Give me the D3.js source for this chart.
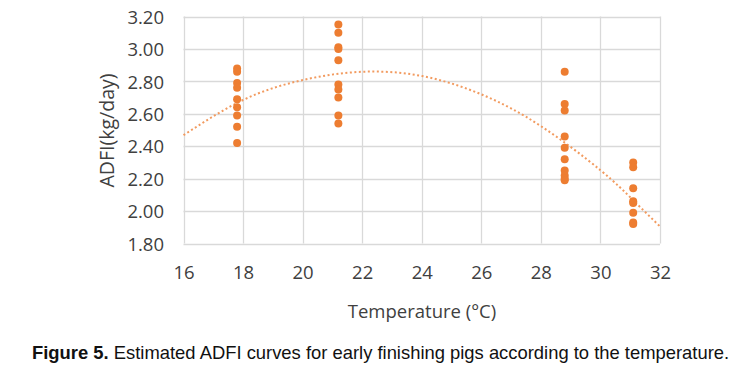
<!DOCTYPE html>
<html>
<head>
<meta charset="utf-8">
<script src="https://cdn.jsdelivr.net/npm/d3@7"></script>
<style>
  html, body { margin: 0; padding: 0; background: #fff; }
  svg { display: block; }
</style>
</head>
<body>
<svg id="chart" width="748" height="379"></svg>
<script>
// ---- data ----
const xTicks = [16, 18, 20, 22, 24, 26, 28, 30, 32];
const yTicks = [1.8, 2.0, 2.2, 2.4, 2.6, 2.8, 3.0, 3.2];

const temperatures = [17.8, 21.2, 28.8, 31.1];
const adfi178 = [2.88, 2.86, 2.79, 2.76, 2.69, 2.64, 2.59, 2.52, 2.42];
const adfi212 = [3.15, 3.10, 3.01, 3.00, 2.93, 2.78, 2.75, 2.70, 2.59, 2.54];
const adfi288 = [2.86, 2.66, 2.62, 2.46, 2.39, 2.32, 2.25, 2.22, 2.20, 2.19];
const adfi311 = [2.30, 2.27, 2.14, 2.06, 2.05, 1.99, 1.93, 1.92];

// polynomial trend line at each tick
const trendX = [16, 18, 20, 22, 24, 26, 28, 30, 31.1, 32];
const trendY = [2.468, 2.685, 2.808, 2.859, 2.833, 2.72, 2.524, 2.252, 2.067, 1.905];

const xTitle = "Temperature (°C)";
const yTitle = "ADFI(kg/day)";
const captionBold = "Figure 5.";
const captionText = " Estimated ADFI curves for early finishing pigs according to the temperature.";

// ---- build ----
const svg = d3.select("#chart");
const x = d3.scaleLinear().domain([16, 32]).range([183.5, 660]);
const y = d3.scaleLinear().domain([1.8, 3.2]).range([243.5, 16.5]);

const orange = "#ED7D31";
const gridColor = "#d9d9d9";
const textColor = "#404040";
const font = "'Open Sans', 'Noto Sans', sans-serif";

// gridlines
const grid = svg.append("g");
grid.selectAll("line.h").data(yTicks).join("line")
  .attr("x1", x(16)).attr("x2", x(32))
  .attr("y1", d => Math.round(y(d)) + 0.5).attr("y2", d => Math.round(y(d)) + 0.5)
  .attr("stroke", gridColor).attr("stroke-width", 1.3);
grid.selectAll("line.v").data(xTicks).join("line")
  .attr("x1", d => Math.round(x(d)) + 0.5).attr("x2", d => Math.round(x(d)) + 0.5)
  .attr("y1", y(3.2)).attr("y2", y(1.8))
  .attr("stroke", gridColor).attr("stroke-width", 1.3);

// y axis labels
const yAxis = d3.axisLeft(y).tickValues(yTicks).tickFormat(d3.format(".2f")).tickSize(0).tickPadding(0);
const gy = svg.append("g").attr("transform", "translate(164,0)").call(yAxis);
gy.select(".domain").remove();
gy.selectAll("text").attr("font-family", font).attr("font-size", 18.5).attr("fill", textColor)
  .attr("dy", "0.36em");

// x axis labels
const xAxis = d3.axisBottom(x).tickValues(xTicks).tickFormat(d3.format("d")).tickSize(0).tickPadding(0);
const gx = svg.append("g").attr("transform", "translate(0,265.5)").call(xAxis);
gx.select(".domain").remove();
gx.selectAll("text").attr("font-family", font).attr("font-size", 18.5).attr("fill", textColor)
  .attr("dy", "0.74em");

// axis titles
svg.append("text").attr("x", 422).attr("y", 317.5).attr("text-anchor", "middle")
  .attr("font-family", font).attr("font-size", 18.5).attr("fill", textColor).text(xTitle);
svg.append("text").attr("transform", "translate(113.5,130.5) rotate(-90)").attr("text-anchor", "middle")
  .attr("font-family", font).attr("font-size", 19.5).attr("fill", textColor).text(yTitle);

// trend line
const trend = trendX.map((t, i) => [t, trendY[i]]);
svg.append("path").datum(trend)
  .attr("d", d3.line().x(d => x(d[0])).y(d => y(d[1])).curve(d3.curveNatural))
  .attr("fill", "none").attr("stroke", "#F29B60").attr("stroke-width", 2)
  .attr("stroke-dasharray", "2,2.5");

// points
const series = [adfi178, adfi212, adfi288, adfi311];
const pts = [];
series.forEach((vals, i) => vals.forEach(v => pts.push([temperatures[i], v])));
svg.append("g").selectAll("circle").data(pts).join("circle")
  .attr("cx", d => x(d[0])).attr("cy", d => y(d[1])).attr("r", 4)
  .attr("fill", orange);

// caption
const cap = svg.append("text").attr("x", 32).attr("y", 359)
  .attr("font-family", "'Liberation Sans', Arial, sans-serif").attr("font-size", 18.4).attr("fill", "#111");
cap.append("tspan").attr("font-weight", "bold").text(captionBold);
cap.append("tspan").text(captionText);
</script>
</body>
</html>
